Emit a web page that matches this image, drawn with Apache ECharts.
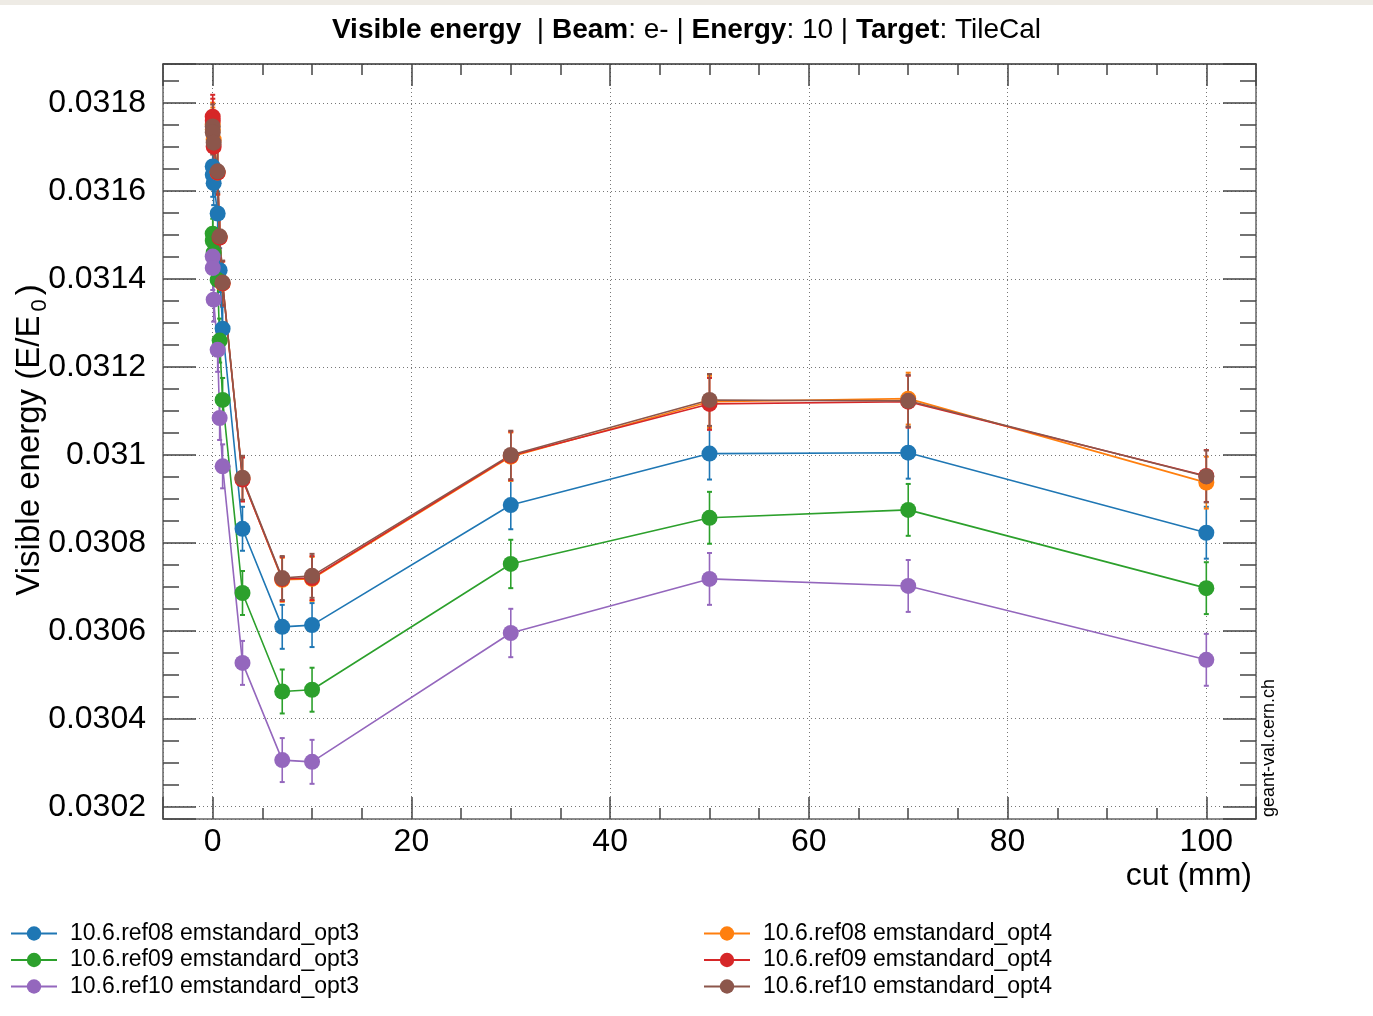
<!DOCTYPE html>
<html>
<head>
<meta charset="utf-8">
<script src="https://cdn.jsdelivr.net/npm/echarts@6/dist/echarts.min.js"></script>
<style>
html,body{margin:0;padding:0;background:#fff;}
#chart{width:1373px;height:1016px;}
</style>
</head>
<body>
<div id="chart"></div>
<script>
// ---- data ----
const cuts = [0.001, 0.01, 0.1, 0.5, 0.7, 1, 3, 7, 10, 30, 50, 70, 100];
const ref08_opt3 = [0.031656, 0.031637, 0.031618, 0.031549, 0.031420, 0.031287, 0.030832, 0.030609, 0.030613, 0.030886, 0.031003, 0.031005, 0.030823];
const ref09_opt3 = [0.031503, 0.031487, 0.031460, 0.031398, 0.031260, 0.031125, 0.030686, 0.030462, 0.030466, 0.030752, 0.030857, 0.030875, 0.030697];
const ref10_opt3 = [0.031451, 0.031425, 0.031353, 0.031239, 0.031084, 0.030974, 0.030527, 0.030306, 0.030302, 0.030595, 0.030718, 0.030702, 0.030534];
const ref08_opt4 = [0.031751, 0.031740, 0.031717, 0.031642, 0.031495, 0.031390, 0.030946, 0.030716, 0.030718, 0.030996, 0.031121, 0.031128, 0.030937];
const ref09_opt4 = [0.031769, 0.031760, 0.031701, 0.031642, 0.031494, 0.031390, 0.030944, 0.030718, 0.030720, 0.030998, 0.031116, 0.031121, 0.030952];
const ref10_opt4 = [0.031747, 0.031733, 0.031710, 0.031645, 0.031497, 0.031392, 0.030948, 0.030720, 0.030725, 0.031000, 0.031125, 0.031123, 0.030951];
const errors = [0.00005, 0.00005, 0.00005, 0.00005, 0.00005, 0.00005, 0.00005, 0.00005, 0.00005, 0.000055, 0.000059, 0.000059, 0.000059];

const seriesNames = [
  '10.6.ref08 emstandard_opt3', '10.6.ref08 emstandard_opt4',
  '10.6.ref09 emstandard_opt3', '10.6.ref09 emstandard_opt4',
  '10.6.ref10 emstandard_opt3', '10.6.ref10 emstandard_opt4'
];
const seriesValues = [ref08_opt3, ref08_opt4, ref09_opt3, ref09_opt4, ref10_opt3, ref10_opt4];
const seriesColors = ['#1f77b4', '#ff7f0e', '#2ca02c', '#d62728', '#9467bd', '#8c564b'];

const xMin = -5, xMax = 105;
const yMin = 0.030172, yMax = 0.031889;

const FONT = 'Liberation Sans, Arial, Helvetica, sans-serif';
const TICK = '#444';

function xLabel(v){ return Math.abs(v/20 - Math.round(v/20)) < 1e-6 ? String(Math.round(v)) : ''; }
function yLabel(v){ return Math.abs(v/0.0002 - Math.round(v/0.0002)) < 1e-4 ? String(+v.toFixed(4)) : ''; }

const chart = echarts.init(document.getElementById('chart'), null, {renderer:'canvas'});

const series = [];
seriesValues.forEach((vals, i) => {
  const color = seriesColors[i];
  series.push({
    type: 'custom',
    name: 'err' + i,
    xAxisIndex: 0, yAxisIndex: 0,
    data: cuts.map((c, k) => [c, vals[k], errors[k]]),
    encode: {x: 0, y: 1},
    silent: true,
    renderItem: function(params, api){
      const x = api.value(0), y = api.value(1), e = api.value(2);
      const t = api.coord([x, y + e]);
      const b = api.coord([x, y - e]);
      const w = 2.5;
      const st = {stroke: color, lineWidth: 1.6};
      return {type: 'group', children: [
        {type: 'line', shape: {x1: t[0], y1: t[1], x2: b[0], y2: b[1]}, style: st},
        {type: 'line', shape: {x1: t[0]-w, y1: t[1], x2: t[0]+w, y2: t[1]}, style: {stroke: color, lineWidth: 2}},
        {type: 'line', shape: {x1: b[0]-w, y1: b[1], x2: b[0]+w, y2: b[1]}, style: {stroke: color, lineWidth: 2}}
      ]};
    }
  });
  series.push({
    type: 'line',
    name: seriesNames[i],
    xAxisIndex: 0, yAxisIndex: 0,
    data: cuts.map((c, k) => [c, vals[k]]),
    symbol: 'circle',
    symbolSize: 16,
    itemStyle: {color: color},
    lineStyle: {color: color, width: 1.6},
    emphasis: {disabled: true}
  });
});

const legendText = {fontSize: 23, fontFamily: FONT, color: '#000', padding: [0,0,0,8]};

const option = {
  animation: false,
  backgroundColor: '#fff',
  title: {
    text: '{b|Visible energy}  | {b|Beam}: e- | {b|Energy}: 10 | {b|Target}: TileCal',
    left: 'center',
    top: 11,
    textStyle: {
      fontSize: 28, fontFamily: FONT, color: '#000', fontWeight: 'normal',
      rich: {b: {fontSize: 28, fontFamily: FONT, fontWeight: 'bold', color: '#000'}}
    }
  },
  legend: [
    {left: 10, top: 922, padding: 0, orient: 'vertical', itemWidth: 46, itemHeight: 18, itemGap: 3.5,
     data: [seriesNames[0], seriesNames[2], seriesNames[4]], textStyle: legendText},
    {left: 703, top: 922, padding: 0, orient: 'vertical', itemWidth: 46, itemHeight: 18, itemGap: 3.5,
     data: [seriesNames[1], seriesNames[3], seriesNames[5]], textStyle: legendText}
  ],
  grid: {left: 163, right: 117, top: 64, bottom: 197, containLabel: false},
  xAxis: [
    {type: 'value', position: 'bottom', min: xMin, max: xMax, splitNumber: 5,
     axisLine: {show: true, onZero: false, lineStyle: {color: '#666', width: 1.5}},
     axisTick: {show: true, inside: true, length: 22, lineStyle: {color: TICK, width: 1.5}},
     axisLabel: {formatter: xLabel, fontSize: 32, fontFamily: FONT, color: '#000', margin: 7},
     splitLine: {show: true, lineStyle: {color: '#777', type: [1, 3], width: 1}}},
    {type: 'value', position: 'bottom', min: xMin, max: xMax, splitNumber: 22,
     axisLine: {show: false, onZero: false},
     axisTick: {show: true, inside: true, length: 11, lineStyle: {color: TICK, width: 1.5}},
     axisLabel: {show: false}, splitLine: {show: false}},
    {type: 'value', position: 'top', min: xMin, max: xMax, splitNumber: 5,
     axisLine: {show: true, onZero: false, lineStyle: {color: '#333', width: 1.5}},
     axisTick: {show: true, inside: true, length: 22, lineStyle: {color: TICK, width: 1.5}},
     axisLabel: {show: false}, splitLine: {show: false}},
    {type: 'value', position: 'top', min: xMin, max: xMax, splitNumber: 22,
     axisLine: {show: false, onZero: false},
     axisTick: {show: true, inside: true, length: 11, lineStyle: {color: TICK, width: 1.5}},
     axisLabel: {show: false}, splitLine: {show: false}}
  ],
  yAxis: [
    {type: 'value', position: 'left', min: yMin, max: yMax, splitNumber: 9,
     axisLine: {show: true, onZero: false, lineStyle: {color: '#666', width: 1.5}},
     axisTick: {show: true, inside: true, length: 33, lineStyle: {color: TICK, width: 1.5}},
     axisLabel: {formatter: yLabel, fontSize: 32, fontFamily: FONT, color: '#000', margin: 17, padding: [5, 0, 0, 0]},
     splitLine: {show: true, lineStyle: {color: '#777', type: [1, 3], width: 1}}},
    {type: 'value', position: 'left', min: yMin, max: yMax, splitNumber: 34,
     axisLine: {show: false, onZero: false},
     axisTick: {show: true, inside: true, length: 16, lineStyle: {color: TICK, width: 1.5}},
     axisLabel: {show: false}, splitLine: {show: false}},
    {type: 'value', position: 'right', min: yMin, max: yMax, splitNumber: 9,
     axisLine: {show: true, onZero: false, lineStyle: {color: '#666', width: 1.5}},
     axisTick: {show: true, inside: true, length: 33, lineStyle: {color: TICK, width: 1.5}},
     axisLabel: {show: false}, splitLine: {show: false}},
    {type: 'value', position: 'right', min: yMin, max: yMax, splitNumber: 34,
     axisLine: {show: false, onZero: false},
     axisTick: {show: true, inside: true, length: 16, lineStyle: {color: TICK, width: 1.5}},
     axisLabel: {show: false}, splitLine: {show: false}}
  ],
  graphic: [
    {type: 'rect', left: 0, top: 0, shape: {width: 1373, height: 5}, style: {fill: '#eeebe5'}, silent: true},
    {type: 'text', x: 1252, y: 876, silent: true,
     style: {text: 'cut (mm)', fontSize: 32, fontFamily: FONT, fill: '#000', align: 'right', verticalAlign: 'middle'}},
    {type: 'text', x: 1269, y: 817, rotation: Math.PI / 2, silent: true,
     style: {text: 'geant-val.cern.ch', fontSize: 18, fontFamily: FONT, fill: '#000', align: 'left', verticalAlign: 'middle'}},
    {type: 'text', x: 30, y: 440, rotation: Math.PI / 2, silent: true,
     style: {text: '{a|Visible energy (E/E}{s|0}{a|)}', align: 'center', verticalAlign: 'middle',
       rich: {
         a: {fontSize: 33, fontFamily: FONT, fill: '#000', lineHeight: 42, verticalAlign: 'middle'},
         s: {fontSize: 22, fontFamily: FONT, fill: '#000', lineHeight: 42, verticalAlign: 'bottom', padding: [0, 4, 0, 4]}
       }}}
  ],
  series: series
};
chart.setOption(option);
</script>
</body>
</html>
